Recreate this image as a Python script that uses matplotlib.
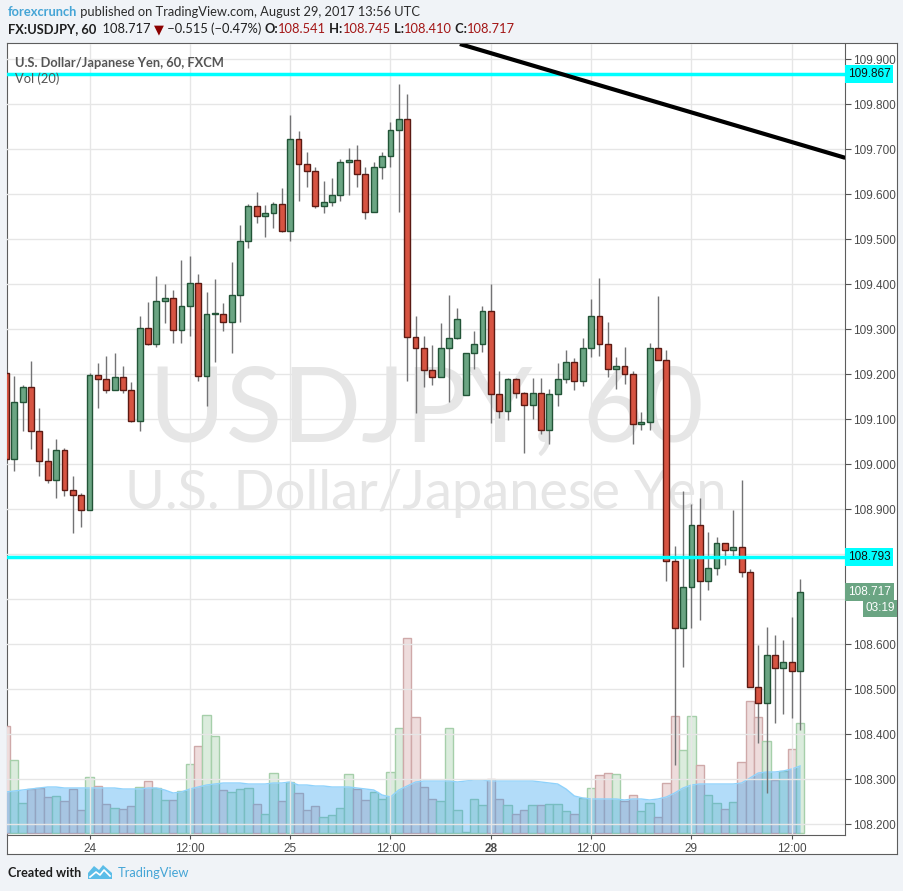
import numpy as np
import matplotlib.pyplot as plt
from matplotlib.patches import Polygon

# hourly USD/JPY bars, Aug 23 14:00 -> Aug 29 13:00 (UTC), weekend removed
opens = [109.202, 109.011, 109.138, 109.171, 109.073, 109.007, 108.964, 109.031, 108.942, 108.931,
         108.898, 109.198, 109.189, 109.164, 109.193, 109.164, 109.096, 109.302, 109.267, 109.362,
         109.369, 109.298, 109.351, 109.402, 109.196, 109.333, 109.335, 109.316, 109.376, 109.496,
         109.573, 109.551, 109.558, 109.578, 109.518, 109.722, 109.667, 109.651, 109.575, 109.582,
         109.598, 109.671, 109.676, 109.646, 109.560, 109.660, 109.684, 109.742, 109.767, 109.282,
         109.258, 109.209, 109.193, 109.258, 109.280, 109.153, 109.247, 109.267, 109.340, 109.156,
         109.118, 109.189, 109.158, 109.131, 109.158, 109.076, 109.156, 109.189, 109.227, 109.184,
         109.258, 109.329, 109.267, 109.211, 109.218, 109.200, 109.089, 109.093, 109.258, 109.231,
         108.784, 108.636, 108.727, 108.864, 108.740, 108.769, 108.824, 108.809, 108.816, 108.760,
         108.504, 108.469, 108.576, 108.547, 108.560, 108.541]
highs = [109.215, 109.196, 109.176, 109.230, 109.125, 109.036, 109.056, 109.037, 108.974, 108.936,
         109.202, 109.224, 109.240, 109.247, 109.219, 109.183, 109.330, 109.361, 109.419, 109.401,
         109.387, 109.454, 109.463, 109.423, 109.383, 109.412, 109.359, 109.450, 109.532, 109.578,
         109.605, 109.576, 109.583, 109.614, 109.776, 109.741, 109.694, 109.660, 109.630, 109.636,
         109.679, 109.702, 109.710, 109.660, 109.671, 109.694, 109.760, 109.845, 109.823, 109.330,
         109.285, 109.264, 109.314, 109.376, 109.347, 109.247, 109.296, 109.351, 109.401, 109.207,
         109.191, 109.191, 109.160, 109.192, 109.192, 109.167, 109.225, 109.254, 109.236, 109.281,
         109.367, 109.414, 109.316, 109.238, 109.261, 109.207, 109.116, 109.269, 109.374, 109.253,
         108.818, 108.941, 108.912, 108.924, 108.849, 108.838, 108.824, 108.899, 108.965, 108.767,
         108.599, 108.639, 108.621, 108.610, 108.661, 108.745]
lows = [108.990, 108.984, 109.073, 109.033, 108.973, 108.959, 108.924, 108.930, 108.848, 108.861,
        108.898, 109.126, 109.159, 109.164, 109.158, 109.093, 109.073, 109.265, 109.260, 109.315,
        109.270, 109.270, 109.285, 109.186, 109.130, 109.228, 109.297, 109.248, 109.317, 109.481,
        109.537, 109.504, 109.524, 109.516, 109.497, 109.584, 109.617, 109.570, 109.559, 109.575,
        109.586, 109.599, 109.617, 109.546, 109.560, 109.635, 109.661, 109.561, 109.186, 109.115,
        109.171, 109.177, 109.193, 109.139, 109.278, 109.153, 109.211, 109.249, 109.091, 109.102,
        109.098, 109.147, 109.026, 109.101, 109.068, 109.046, 109.129, 109.181, 109.164, 109.175,
        109.239, 109.241, 109.193, 109.167, 109.178, 109.044, 109.076, 109.076, 109.231, 108.741,
        108.332, 108.550, 108.636, 108.654, 108.721, 108.753, 108.775, 108.795, 108.750, 108.504,
        108.381, 108.269, 108.426, 108.445, 108.435, 108.410]
closes = [109.011, 109.138, 109.171, 109.073, 109.007, 108.964, 109.031, 108.942, 108.931, 108.898,
          109.198, 109.189, 109.164, 109.193, 109.164, 109.096, 109.302, 109.267, 109.362, 109.369,
          109.298, 109.351, 109.402, 109.196, 109.333, 109.335, 109.316, 109.376, 109.496, 109.573,
          109.551, 109.558, 109.578, 109.518, 109.722, 109.667, 109.651, 109.575, 109.582, 109.598,
          109.671, 109.676, 109.646, 109.560, 109.660, 109.684, 109.742, 109.767, 109.282, 109.258,
          109.209, 109.193, 109.258, 109.280, 109.322, 109.247, 109.267, 109.340, 109.156, 109.118,
          109.189, 109.158, 109.131, 109.158, 109.076, 109.156, 109.189, 109.227, 109.184, 109.258,
          109.329, 109.267, 109.211, 109.218, 109.200, 109.089, 109.093, 109.258, 109.231, 108.784,
          108.636, 108.727, 108.864, 108.740, 108.769, 108.824, 108.809, 108.816, 108.760, 108.504,
          108.469, 108.576, 108.547, 108.560, 108.541, 108.717]
volumes = [107, 73, 30, 44, 45, 36, 37, 32, 44, 23,
           56, 47, 29, 25, 24, 27, 46, 52, 45, 33,
           33, 42, 69, 87, 118, 97, 43, 41, 44, 45,
           29, 19, 60, 32, 51, 40, 23, 27, 16, 18,
           25, 59, 44, 33, 41, 34, 61, 105, 195, 116,
           46, 34, 32, 105, 23, 1, 34, 28, 54, 34,
           28, 19, 23, 28, 28, 29, 29, 22, 19, 35,
           45, 58, 60, 59, 32, 38, 22, 30, 16, 50,
           117, 83, 117, 68, 38, 30, 24, 31, 71, 132,
           116, 92, 53, 62, 84, 110]
vol_ma = [41, 42, 43, 44, 45, 46, 46, 45, 45, 45,
          45, 45, 45, 45, 44, 44, 44, 45, 45, 43,
          40, 41, 44, 46, 48, 49, 50, 50, 50, 49,
          49, 49, 50, 50, 51, 48, 48, 47, 47, 46,
          46, 46, 45, 44, 43, 38, 36, 43, 47, 51,
          52, 52, 52, 52, 51, 52, 53, 53, 52, 52,
          52, 52, 52, 52, 51, 50, 49, 44, 37, 35,
          34, 34, 34, 34, 33, 34, 34, 33, 34, 36,
          40, 45, 48, 49, 49, 49, 49, 49, 50, 55,
          60, 61, 61, 62, 64, 67]

tick_pos = [10, 22, 34, 46, 58, 70, 82, 94]
tick_labels = ['24', '12:00', '25', '12:00', '28', '12:00', '29', '12:00']
level_lines = [109.867, 108.793]
trend_x = [54.3, 100.4]
trend_y = [109.934, 109.681]
last_price = 108.717
countdown = '03:19'

W, H = 904, 891
fig = plt.figure(figsize=(W / 100, H / 100), dpi=100)
fig.patch.set_facecolor('#f0f3f7')


def box(x0, y0, x1, y1):
    return [x0 / W, 1 - y1 / H, (x1 - x0) / W, (y1 - y0) / H]


# background axes in pixel units for header / footer
bg = fig.add_axes([0, 0, 1, 1], zorder=-1)
bg.set_xlim(0, W)
bg.set_ylim(H, 0)
bg.axis('off')

panel = fig.add_axes(box(7, 43, 897, 854), zorder=0)
panel.set_xticks([])
panel.set_yticks([])
panel.set_facecolor('white')
for s in panel.spines.values():
    s.set_color('#5d5d5d')

ax_vol = fig.add_axes(box(7, 44, 845, 835), zorder=1)
ax = fig.add_axes(box(7, 44, 845, 835), zorder=2)
ax_vol.patch.set_visible(False)
ax.patch.set_visible(False)

x = np.arange(len(opens))
o = np.array(opens)
c = np.array(closes)
up = c >= o

# volume + its moving average
for xi, v, is_up in zip(x, volumes, up):
    ax_vol.bar(xi, v, width=1.0, color='#dbecdd' if is_up else '#eedcdc',
               edgecolor='#a6cfaa' if is_up else '#cfa9a9', linewidth=1)
ax_vol.fill_between(x, 0, vol_ma, color='#1f9bf0', alpha=0.34, linewidth=0, zorder=3)
ax_vol.plot(x, vol_ma, color='#8fd2fb', lw=1, zorder=3)
ax_vol.set_xlim(0.13, 100.37)
ax_vol.set_ylim(-2, 789)
ax_vol.axis('off')

# candles
ax.vlines(x, lows, highs, color='#737375', lw=1, zorder=3)
body_lo = np.minimum(o, c)
body_h = np.maximum(np.abs(c - o), 0.004)
ax.bar(x[up], body_h[up], bottom=body_lo[up], width=0.7, color='#6ba583',
       edgecolor='#225437', linewidth=1, zorder=4)
ax.bar(x[~up], body_h[~up], bottom=body_lo[~up], width=0.7, color='#d75442',
       edgecolor='#5b1a13', linewidth=1, zorder=4)

for lv in level_lines:
    ax.axhline(lv, color='#00ffff', lw=2.5, zorder=5)
ax.plot(trend_x, trend_y, color='black', lw=3, zorder=6, solid_capstyle='butt')

ax.set_xlim(0.13, 100.37)
ax.set_ylim(108.176, 109.934)

yt = np.round(np.arange(108.2, 109.95, 0.1), 1)
ax.set_yticks(yt)
ax.set_yticklabels(['' if v in (108.7, 108.8) else f'{v:.3f}' for v in yt])
ax.yaxis.tick_right()
ax.set_xticks(tick_pos)
ax.set_xticklabels(tick_labels)
for lab in ax.get_xticklabels():
    lab.set_fontweight('bold' if lab.get_text() == '28' else 'normal')
ax.tick_params(axis='y', direction='out', length=4, color='#555555', labelsize=8.5,
               labelcolor='#4a4a4a', pad=2)
ax.tick_params(axis='x', direction='out', length=3, color='#555555', labelsize=8.5,
               labelcolor='#4a4a4a', pad=3)
for lab in ax.get_yticklabels() + ax.get_xticklabels():
    lab.set_family('Liberation Sans')
ax.grid(color='#e6e6e6', lw=1, zorder=0)
ax.set_axisbelow(True)
ax.spines['top'].set_visible(False)
ax.spines['left'].set_visible(False)
ax.spines['right'].set_color('#5d5d5d')
ax.spines['bottom'].set_color('#5d5d5d')

# watermark
ax.text(0.5, 0.535, 'USDJPY, 60', transform=ax.transAxes, ha='center', va='center',
        fontsize=75, color='#e6e6e6', family='Lato', zorder=1)
ax.text(0.5, 0.432, 'U.S. Dollar/Japanese Yen', transform=ax.transAxes, ha='center',
        va='center', fontsize=39, color='#e6e6e6', family='Lato', zorder=1)

# price labels on the axis
for lv in level_lines:
    ax.annotate(f'{lv:.3f}', xy=(1, lv), xycoords=('axes fraction', 'data'),
                xytext=(2, 0), textcoords='offset points', va='center', ha='left',
                fontsize=8.5, family='Liberation Sans', color='#111111',
                bbox=dict(boxstyle='square,pad=0.25', fc='#00ffff', ec='none'))
ax.annotate(f'{last_price:.3f}', xy=(1, last_price), xycoords=('axes fraction', 'data'),
            xytext=(2, 0), textcoords='offset points', va='center', ha='left',
            fontsize=8.5, family='Liberation Sans', color='white',
            bbox=dict(boxstyle='square,pad=0.25', fc='#6ba583', ec='none'))
ax.annotate(countdown, xy=(1, last_price), xycoords=('axes fraction', 'data'),
            xytext=(36, -12), textcoords='offset points', va='center', ha='right',
            fontsize=8.5, family='Liberation Sans', color='white',
            bbox=dict(boxstyle='square,pad=0.2', fc='#6ba583', ec='none'))

# legend texts inside the chart
fig.text(15 / W, 1 - 63 / H, 'U.S. Dollar/Japanese Yen, 60, FXCM', fontsize=9.3,
         color='#555555', weight='bold', family='Lato', va='center')
fig.text(15 / W, 1 - 79 / H, 'Vol (20)', fontsize=9.3, color='#555555',
         family='Lato', va='center')

# header
hfont = dict(fontsize=9.3, family=['Lato', 'DejaVu Sans'], va='center')


def chain(parts, x0, y0):
    prev = None
    for txt, col, wt in parts:
        if prev is None:
            prev = bg.text(x0, y0, txt, color=col, weight=wt, ha='left', **hfont)
        else:
            prev = bg.annotate(txt, xy=(1, 0.5), xycoords=prev, xytext=(0, 0),
                               textcoords='offset points', color=col, weight=wt,
                               ha='left', **hfont)


chain([('forexcrunch', '#45a5d6', 'bold'),
       (' published on TradingView.com, August 29, 2017 13:56 UTC', '#2b2b2b', 'normal')],
      8, 12)
red = '#a31515'
chain([('FX:USDJPY, 60', '#1e1e1e', 'bold'), ('  108.717 ', '#1e1e1e', 'normal'),
       ('\u25bc', '#8b0000', 'normal'), (' \u22120.515 (\u22120.47%) ', '#1e1e1e', 'normal'),
       ('O:', '#1e1e1e', 'bold'), ('108.541', red, 'normal'),
       (' H:', '#1e1e1e', 'bold'), ('108.745', red, 'normal'),
       (' L:', '#1e1e1e', 'bold'), ('108.410', red, 'normal'),
       (' C:', '#1e1e1e', 'bold'), ('108.717', red, 'normal')], 8, 29)

# footer
bg.text(8, 873, 'Created with', fontsize=9.1, weight='bold', color='#1e1e1e',
        family='Lato', va='center')
bg.add_patch(Polygon([(88, 879), (88, 873), (94, 866), (99, 870), (103, 865),
                      (112, 873), (112, 879)], closed=True, fc='#5bbde8', ec='none'))
bg.plot([90, 96, 100, 104, 110], [877, 872, 875, 870, 876], color='white', lw=1.2)
bg.text(118, 873, 'TradingView', fontsize=9.3, color='#45a5d6',
        family='Lato', va='center')

fig.savefig('out.png', dpi=100, facecolor=fig.get_facecolor())
